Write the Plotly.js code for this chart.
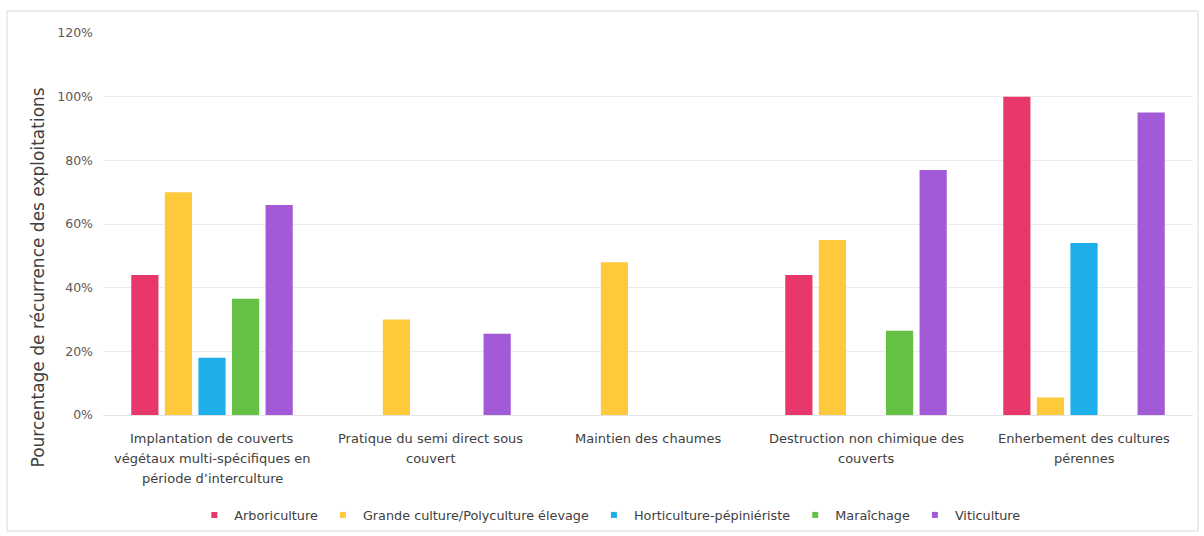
<!DOCTYPE html>
<html>
<head>
<meta charset="utf-8">
<script src="https://cdn.plot.ly/plotly-3.0.1.min.js"></script>
<style>
  html, body { margin: 0; padding: 0; background: #ffffff; }
  #chart { width: 1204px; height: 536px; }
</style>
</head>
<body>
<div id="chart"></div>
<script>
// Practices (x categories) and their wrapped labels
const categories = [
  "Implantation de couverts végétaux multi-spécifiques en période d’interculture",
  "Pratique du semi direct sous couvert",
  "Maintien des chaumes",
  "Destruction non chimique des couverts",
  "Enherbement des cultures pérennes"
];
const categoryLabels = [
  ["Implantation de couverts", "végétaux multi-spécifiques en", "période d’interculture"],
  ["Pratique du semi direct sous", "couvert"],
  ["Maintien des chaumes"],
  ["Destruction non chimique des", "couverts"],
  ["Enherbement des cultures", "pérennes"]
];
const yTitle = "Pourcentage de récurrence des exploitations";

// Share of farms per production type (fraction, null = no bar)
const arboriculture = [0.44, null, null, 0.44, 1.00];
const grandeCulture = [0.70, 0.30, 0.48, 0.55, 0.055];
const horticulture  = [0.18, null, null, null, 0.54];
const maraichage    = [0.365, null, null, 0.265, null];
const viticulture   = [0.66, 0.255, null, 0.77, 0.95];

const seriesNames = [
  "Arboriculture",
  "Grande culture/Polyculture élevage",
  "Horticulture-pépiniériste",
  "Maraîchage",
  "Viticulture"
];
const seriesValues = [arboriculture, grandeCulture, horticulture, maraichage, viticulture];
const seriesColors = ["#E8386B", "#FFC93C", "#1EAFEA", "#64C146", "#A25AD6"];

const FONT = "DejaVu Sans, Liberation Sans, Arial, sans-serif";

// Bars
const barTraces = seriesValues.map((vals, i) => ({
  type: "bar",
  name: seriesNames[i],
  x: categories,
  y: vals,
  marker: { color: seriesColors[i] },
  showlegend: false,
  hoverinfo: "name+y"
}));

// Legend entries with small square keys
const legendTraces = seriesNames.map((name, i) => ({
  type: "scatter",
  mode: "markers",
  name: name,
  x: [null],
  y: [null],
  marker: { symbol: "square", size: 6, color: seriesColors[i] },
  showlegend: true
}));

// Category labels, one annotation per line
const annotations = [];
categoryLabels.forEach((lines, c) => {
  lines.forEach((line, k) => {
    annotations.push({
      xref: "x", yref: "paper",
      x: categories[c], y: 0,
      text: line,
      showarrow: false,
      xanchor: "center", yanchor: "middle",
      yshift: -(23 + k * 20),
      font: { family: FONT, size: 13, color: "#404040" }
    });
  });
});

// Vertical axis title
annotations.push({
  xref: "paper", yref: "paper",
  x: -0.0596, y: 0.36,
  text: yTitle,
  textangle: -90,
  showarrow: false,
  xanchor: "center", yanchor: "middle",
  font: { family: FONT, size: 17, color: "#404040" }
});

const layout = {
  width: 1204,
  height: 536,
  margin: { l: 103, r: 11, t: 33, b: 121, autoexpand: false },
  paper_bgcolor: "#ffffff",
  plot_bgcolor: "#ffffff",
  font: { family: FONT, size: 13, color: "#404040" },
  barmode: "group",
  bargap: 0.23,
  bargroupgap: 0.19,
  showlegend: true,
  legend: {
    orientation: "h",
    x: 0.465, xanchor: "center",
    y: -0.262, yanchor: "middle",
    font: { family: FONT, size: 12.8, color: "#404040" },
    itemwidth: 30,
    traceorder: "normal"
  },
  xaxis: {
    type: "category",
    showgrid: false,
    showline: true,
    linecolor: "#e3e3e3",
    linewidth: 1,
    ticks: "",
    showticklabels: false,
    fixedrange: true
  },
  yaxis: {
    range: [0, 1.2],
    dtick: 0.2,
    tick0: 0,
    tickformat: ".0%",
    showgrid: true,
    gridcolor: "#ececec",
    gridwidth: 1,
    zeroline: false,
    showline: false,
    ticks: "",
    ticklabelstandoff: 9,
    tickfont: { family: FONT, size: 12.5, color: "#595959" },
    fixedrange: true
  },
  annotations: annotations,
  shapes: [{
    type: "rect",
    xref: "paper", yref: "paper",
    x0: -0.088, x1: 1.0046,
    y0: -0.3037, y1: 1.0576,
    line: { color: "#d9d9d9", width: 1 },
    fillcolor: "rgba(0,0,0,0)",
    layer: "below"
  }]
};

Plotly.newPlot("chart", barTraces.concat(legendTraces), layout, { displayModeBar: false, staticPlot: true });
</script>
</body>
</html>
